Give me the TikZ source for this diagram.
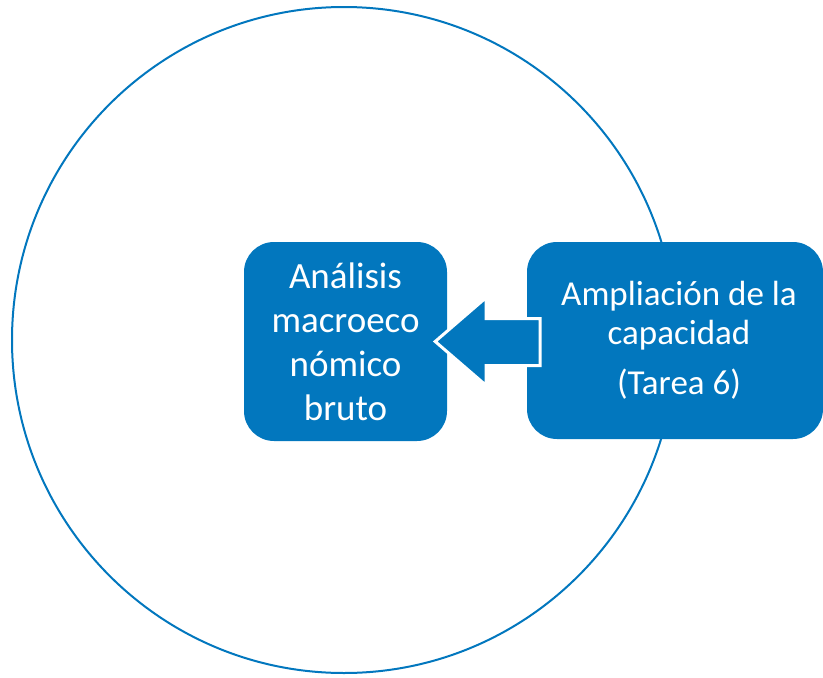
\documentclass[tikz,border=0pt]{standalone}
\usepackage{fontspec}
\setmainfont{Carlito}
\usetikzlibrary{calc}
\definecolor{sblue}{RGB}{2,119,190}
\begin{document}
\begin{tikzpicture}[x=1pt,y=-1pt,
  box/.style={fill=sblue, rounded corners=30pt, text=white, align=center, inner sep=0pt},
  ring/.style={draw=sblue, line width=2pt},
  blockarrow/.style={fill=sblue, draw=white, line width=3pt, line join=miter}]
\useasboundingbox (0,0) rectangle (823,678);
\draw[ring] (344,340) ellipse [x radius=332, y radius=333];
\node[box, minimum width=203pt, minimum height=199pt,
      font=\fontsize{37pt}{44pt}\selectfont] (left) at (345.5,341.5)
      {Análisis\\macroeco\\nómico\\bruto};
\node[box, minimum width=296pt, minimum height=197pt,
      font=\fontsize{35pt}{39pt}\selectfont] (right) at (675,340.5)
      {\hspace*{8pt}Ampliación de la\\\hspace*{8pt}capacidad\\[11pt]\hspace*{8pt}(Tarea 6)};
\coordinate (tip) at ($(left.east)+(-12,0)$);
\path[blockarrow] (tip) -- ++(51,-44) -- ++(0,21) -- ++(54,0) -- ++(0,47)
  -- ++(-54,0) -- ++(0,20) -- cycle;
\end{tikzpicture}
\end{document}
